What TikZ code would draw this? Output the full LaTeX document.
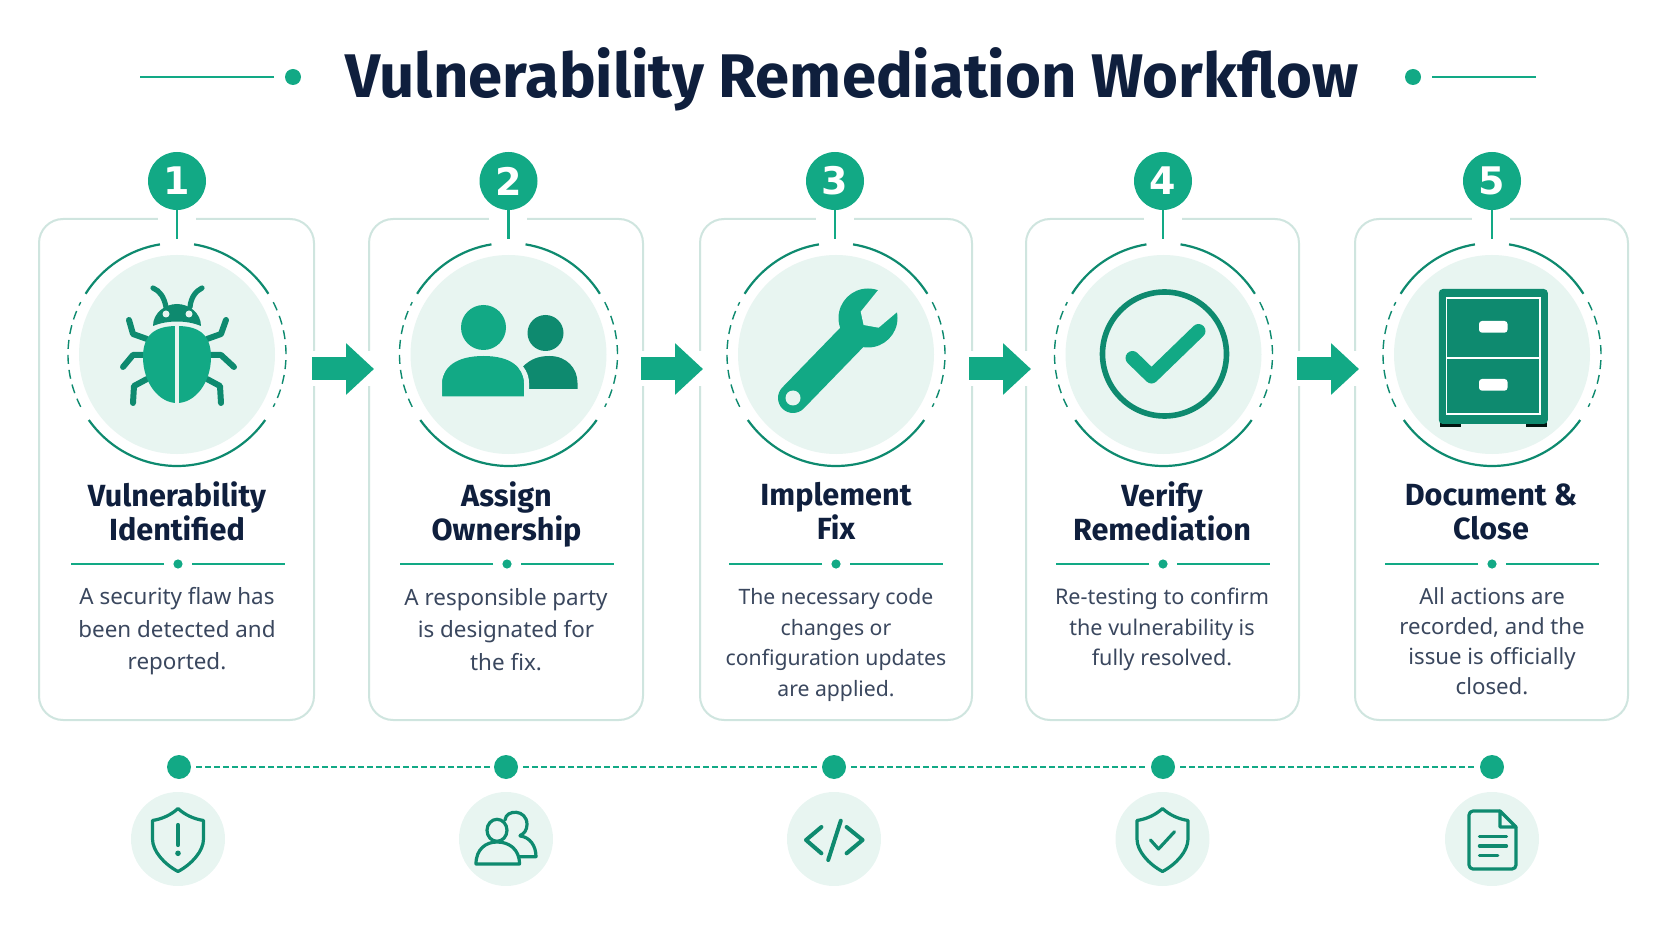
\documentclass[tikz,border=0pt]{standalone}
\usepackage{fontspec}
\usepackage{tikz}
\usetikzlibrary{arrows.meta}
\setmainfont{Noto Sans}
\newfontfamily\headfont{Fira Sans}
\newfontfamily\badgefont{DejaVu Sans}

\definecolor{flowgreen}{HTML}{12A985}
\definecolor{deepgreen}{HTML}{0E8A6F}
\definecolor{softgreen}{HTML}{E8F5F1}
\definecolor{cardline}{HTML}{CFE5DF}
\definecolor{inktitle}{HTML}{0F1F3D}
\definecolor{inkbody}{HTML}{3A475E}

\tikzset{
    stepcard/.style = {draw = cardline, line width = 1pt, rounded corners = 12pt, fill = white, inner sep = 0pt},
    badge/.style = {circle, fill = flowgreen, minimum size = 29pt, inner sep = 0pt, text = white, font = \badgefont\bfseries\fontsize{19}{19}\selectfont},
    stem/.style = {flowgreen, line width = 1.3pt},
    ringline/.style = {deepgreen, line width = 1.1pt},
    ringdash/.style = {deepgreen, line width = 0.7pt, dash pattern = on 4.5pt off 3pt},
    flowarrow/.style = {flowgreen, line width = 11.5pt, -{Triangle[length = 14pt, width = 25pt]}},
    arrowgap/.style = {white, line width = 17.5pt},
    headtext/.style = {align = center, text = inktitle, font = \headfont\bfseries\fontsize{15.3}{17}\selectfont},
    bodytext/.style 2 args = {align = center, text = inkbody, font = \fontsize{#1}{#2}\selectfont},
    divline/.style = {flowgreen, line width = 0.8pt},
    smalldot/.style = {circle, fill = flowgreen, minimum size = 4.6pt, inner sep = 0pt},
    trackdot/.style = {circle, fill = flowgreen, minimum size = 12pt, inner sep = 0pt},
    trackline/.style = {flowgreen, line width = 0.7pt, dash pattern = on 3pt off 1.5pt},
    smalldisc/.style = {circle, fill = softgreen, minimum size = 47pt, inner sep = 0pt},
    thinicon/.style = {deepgreen, line width = 1.6pt, line join = round, line cap = round},
    bugleg/.style = {deepgreen, line width = 3pt, line cap = round, line join = round}
}

% circle behind each main icon, with its broken ring
\newcommand{\ringmark}[1]{
    \begin{scope}[shift = {(#1,354.5)}]
        \fill [softgreen] (0,0) ellipse (98 and 99.5);
        \draw [ringline] (213:109 and 111.5) arc [start angle = 213, end angle = 261, x radius = 109, y radius = 111.5];
        \draw [ringline] (279:109 and 111.5) arc [start angle = 279, end angle = 327, x radius = 109, y radius = 111.5];
        \draw [ringline] (36:109 and 111.5) arc [start angle = 36, end angle = 144, x radius = 109, y radius = 111.5];
        \draw [ringdash] (-28:109 and 111.5) arc [start angle = -28, end angle = 28, x radius = 109, y radius = 111.5];
        \draw [ringdash] (152:109 and 111.5) arc [start angle = 152, end angle = 208, x radius = 109, y radius = 111.5];
    \end{scope}
}

% shield outline of the small icons
\newcommand{\shieldpath}{
    (0,-30.5) .. controls (-7,-24) and (-16,-20) .. (-25.5,-18.5) -- (-25.5,0)
    .. controls (-25.5,12) and (-14,25) .. (0,32.5)
    .. controls (14,25) and (25.5,12) .. (25.5,0) -- (25.5,-18.5)
    .. controls (16,-20) and (7,-24) .. (0,-30.5) -- cycle
}

\begin{document}
\begin{tikzpicture}[x = 0.5pt, y = -0.5pt]
    \useasboundingbox (0,0) rectangle (1672,941);

    % title
    \node (title) at (852,79) {\color{inktitle}\headfont\bfseries\fontsize{30.8}{30.8}\selectfont Vulnerability Remediation Workflow};
    \node (titledotL) [circle, fill = flowgreen, minimum size = 8pt, inner sep = 0pt] at (293,77) {};
    \node (titledotR) [circle, fill = flowgreen, minimum size = 8pt, inner sep = 0pt] at (1413,77) {};
    \draw [flowgreen, line width = 1.1pt] (titledotL) ++(-19,0) -- ++(-134,0);
    \draw [flowgreen, line width = 1.1pt] (titledotR) ++(19,0) -- ++(104,0);

    % cards
    \node (cardA) [stepcard, minimum width = 137.5pt, minimum height = 250.5pt] at (176.5,469.5) {};
    \node (cardB) [stepcard, minimum width = 137pt, minimum height = 250.5pt] at (506,469.5) {};
    \node (cardC) [stepcard, minimum width = 136pt, minimum height = 250.5pt] at (836,469.5) {};
    \node (cardD) [stepcard, minimum width = 136.5pt, minimum height = 250.5pt] at (1162.5,469.5) {};
    \node (cardE) [stepcard, minimum width = 136.5pt, minimum height = 250.5pt] at (1491.5,469.5) {};

    % gaps in the card tops, under the stems
    \fill [white] (158,214) rectangle (196,224);
    \fill [white] (489,214) rectangle (527,224);
    \fill [white] (816,214) rectangle (854,224);
    \fill [white] (1144,214) rectangle (1182,224);
    \fill [white] (1472,214) rectangle (1510,224);

    % arrows between cards
    \draw [arrowgap] ([xshift = -1pt, yshift = 50.25pt]cardA.east) -- ([xshift = 2pt, yshift = 50.25pt]cardB.west);
    \draw [arrowgap] ([xshift = -1pt, yshift = 50.25pt]cardB.east) -- ([xshift = 2pt, yshift = 50.25pt]cardC.west);
    \draw [arrowgap] ([xshift = -2pt, yshift = 50.25pt]cardC.east) -- ([xshift = 2pt, yshift = 50.25pt]cardD.west);
    \draw [arrowgap] ([xshift = -1pt, yshift = 50.25pt]cardD.east) -- ([xshift = 2pt, yshift = 50.25pt]cardE.west);
    \draw [flowarrow] ([xshift = -1.5pt, yshift = 50.25pt]cardA.east) -- ([xshift = 3pt, yshift = 50.25pt]cardB.west);
    \draw [flowarrow] ([xshift = -1.5pt, yshift = 50.25pt]cardB.east) -- ([xshift = 2pt, yshift = 50.25pt]cardC.west);
    \draw [flowarrow] ([xshift = -2pt, yshift = 50.25pt]cardC.east) -- ([xshift = 3pt, yshift = 50.25pt]cardD.west);
    \draw [flowarrow] ([xshift = -1.5pt, yshift = 50.25pt]cardD.east) -- ([xshift = 2.5pt, yshift = 50.25pt]cardE.west);

    % rings
    \ringmark{177}
    \ringmark{508.5}
    \ringmark{836}
    \ringmark{1163.5}
    \ringmark{1492}

    % number badges
    \node (badgeA) [badge] at (177,181) {1};
    \node (badgeB) [badge] at (508.5,181) {2};
    \node (badgeC) [badge] at (835,181) {3};
    \node (badgeD) [badge] at (1163,181) {4};
    \node (badgeE) [badge] at (1492,181) {5};
    \coordinate (stemA) at (177,239);
    \coordinate (stemB) at (508.5,239);
    \coordinate (stemC) at (835,239);
    \coordinate (stemD) at (1163,239);
    \coordinate (stemE) at (1492,239);
    \draw [stem] (badgeA) -- (stemA);
    \draw [stem] (badgeB) -- (stemB);
    \draw [stem] (badgeC) -- (stemC);
    \draw [stem] (badgeD) -- (stemD);
    \draw [stem] (badgeE) -- (stemE);

    % bug
    \begin{scope}[shift = {(177,353)}]
        \draw [bugleg] (-30,-14) -- (-44,-19) -- (-48,-33);
        \draw [bugleg] (30,-14) -- (44,-19) -- (49,-33);
        \draw [bugleg] (-32,2) -- (-44,2) -- (-54,14);
        \draw [bugleg] (32,2) -- (44,2) -- (57,14);
        \draw [bugleg] (-30,26) -- (-43,33) -- (-44,50);
        \draw [bugleg] (30,26) -- (43,33) -- (44,50);
        \fill [flowgreen] (0,-27) .. controls (-20,-27) and (-34,-20) .. (-34,4) .. controls (-34,30) and (-18,50) .. (0,50) .. controls (18,50) and (34,30) .. (34,4) .. controls (34,-20) and (20,-27) .. (0,-27) -- cycle;
        \draw [softgreen, line width = 2.4pt] (0,-30) -- (0,52);
        \fill [deepgreen] (-24,-27) .. controls (-24,-40) and (-12,-49) .. (0,-49) .. controls (12,-49) and (24,-40) .. (24,-27) .. controls (10,-33) and (-10,-33) .. (-24,-27) -- cycle;
        \fill [softgreen] (-11,-39) circle (3.5);
        \fill [softgreen] (12,-39) circle (3.5);
        \draw [deepgreen, line width = 2.6pt, line cap = round] (-11,-46) .. controls (-13,-56) and (-17,-62) .. (-24,-65);
        \draw [deepgreen, line width = 2.6pt, line cap = round] (13,-46) .. controls (14,-56) and (19,-62) .. (25,-65);
    \end{scope}

    % two people
    \begin{scope}[shift = {(508.5,353)}]
        \fill [deepgreen] (37,-20) circle (18);
        \fill [deepgreen] (14,36) -- (14,14) .. controls (22,6) and (30,3) .. (41,3) .. controls (58,3) and (69,15) .. (69,30) -- (69,36) -- cycle;
        \fill [flowgreen, draw = softgreen, line width = 2.5pt] (-69,46) -- (-69,30) .. controls (-69,14) and (-52,1) .. (-25,1) .. controls (2,1) and (18,14) .. (18,30) -- (18,46) -- cycle;
        \fill [flowgreen] (-66,43) -- (-66,30) .. controls (-66,14) and (-52,3) .. (-25,3) .. controls (2,3) and (15,14) .. (15,30) -- (15,43) -- cycle;
        \fill [flowgreen] (-25,-25.5) circle (22.5);
    \end{scope}

    % wrench
    \begin{scope}[shift = {(836,353)}]
        \draw [flowgreen, line width = 15pt, line cap = round] (-43,45) -- (22,-22);
        \fill [flowgreen] (32,-35) circle (29.5);
        \fill [softgreen] (40.8,-61.3) -- (24.7,-41.3) -- (27.6,-28) -- (42.6,-25.3) -- (61.5,-41.3) -- (74,-60) -- (52,-74) -- cycle;
        \fill [softgreen] (-43,45) circle (7.5);
    \end{scope}

    % check mark
    \begin{scope}[shift = {(1163.5,353)}]
        \draw [deepgreen, line width = 2.8pt] (1,1) circle (62);
        \draw [flowgreen, line width = 7pt, line cap = round, line join = round] (-31,5) -- (-12,23.5) -- (35,-22);
    \end{scope}

    % filing cabinet
    \begin{scope}[shift = {(1492.5,353)}]
        \fill [black!85!deepgreen] (-52.6,66) rectangle (-31.5,74.3);
        \fill [black!85!deepgreen] (33,66) rectangle (54.6,74.3);
        \fill [deepgreen, rounded corners = 2pt] (-53.7,-64) rectangle (55.3,71);
        \draw [white, line width = 0.8pt] (-46,-54.7) rectangle (47.7,61.3);
        \draw [white, line width = 0.8pt] (-46,5.3) -- (47.7,5.3);
        \fill [white, rounded corners = 1.5pt] (-13.5,-32) rectangle (15,-20.3);
        \fill [white, rounded corners = 1.5pt] (-13.5,26) rectangle (15,37.7);
    \end{scope}

    % step titles
    \node (headA) [headtext] at (177,511) {Vulnerability\\Identified};
    \node (headB) [headtext] at (506.5,514) {Assign\\Ownership};
    \node (headC) [headtext] at (836,511) {Implement\\Fix};
    \node (headD) [headtext] at (1162,511) {Verify\\Remediation};
    \node (headE) [headtext] at (1491,512) {Document \&\\Close};

    % dividers
    \node (divA) [smalldot] at (178,564) {};
    \node (divB) [smalldot] at (507,564) {};
    \node (divC) [smalldot] at (836,564) {};
    \node (divD) [smalldot] at (1163,564) {};
    \node (divE) [smalldot] at (1492,564) {};
    \draw [divline] (divA) ++(-14,0) -- ++(-93,0);
    \draw [divline] (divA) ++(14,0) -- ++(93,0);
    \draw [divline] (divB) ++(-14,0) -- ++(-93,0);
    \draw [divline] (divB) ++(14,0) -- ++(93,0);
    \draw [divline] (divC) ++(-14,0) -- ++(-93,0);
    \draw [divline] (divC) ++(14,0) -- ++(93,0);
    \draw [divline] (divD) ++(-14,0) -- ++(-93,0);
    \draw [divline] (divD) ++(14,0) -- ++(93,0);
    \draw [divline] (divE) ++(-14,0) -- ++(-93,0);
    \draw [divline] (divE) ++(14,0) -- ++(93,0);

    % step texts
    \node (bodyA) [bodytext = {11.2}{16.25}] at (177,631.5) {A security flaw has\\been detected and\\reported.};
    \node (bodyB) [bodytext = {11.2}{16.25}] at (506,629.5) {A responsible party\\is designated for\\the fix.};
    \node (bodyC) [bodytext = {10.6}{15.3}] at (836,645) {The necessary code\\changes or\\configuration updates\\are applied.};
    \node (bodyD) [bodytext = {10.8}{15.25}] at (1162,629.5) {Re-testing to confirm\\the vulnerability is\\fully resolved.};
    \node (bodyE) [bodytext = {11.1}{15}] at (1492,641) {All actions are\\recorded, and the\\issue is officially\\closed.};

    % timeline
    \node (trackA) [trackdot] at (179,767) {};
    \node (trackB) [trackdot] at (506,767) {};
    \node (trackC) [trackdot] at (834,767) {};
    \node (trackD) [trackdot] at (1163,767) {};
    \node (trackE) [trackdot] at (1492,767) {};
    \draw [trackline] (trackA) ++(17,0) -- ([xshift = -2pt]trackB.west);
    \draw [trackline] (trackB) ++(17,0) -- ([xshift = -2pt]trackC.west);
    \draw [trackline] (trackC) ++(17,0) -- ([xshift = -2pt]trackD.west);
    \draw [trackline] (trackD) ++(17,0) -- ([xshift = -2pt]trackE.west);

    % small icons
    \node (smallA) [smalldisc] at (178,839) {};
    \node (smallB) [smalldisc] at (506,839) {};
    \node (smallC) [smalldisc] at (834,839) {};
    \node (smallD) [smalldisc] at (1162.5,839) {};
    \node (smallE) [smalldisc] at (1492,839) {};

    \begin{scope}[shift = {(178,839)}]
        \draw [thinicon] \shieldpath;
        \draw [deepgreen, line width = 2.1pt, line cap = round] (0,-14) -- (0,6);
        \fill [deepgreen] (0,14.3) circle (2.8);
    \end{scope}

    \begin{scope}[shift = {(506,839)}]
        \draw [thinicon] (-1,-19) .. controls (0,-30) and (21,-30) .. (21,-14.5) .. controls (21,-9) and (18,-5) .. (14,-3.5);
        \draw [thinicon] (14,-3) .. controls (24,-2) and (30,7) .. (30,17.7) -- (13.5,17.7);
        \draw [thinicon] (-9,-8.7) ellipse (10 and 11);
        \draw [thinicon] (-30,25) .. controls (-30,10) and (-20,3) .. (-9,3) .. controls (3,3) and (13.5,10) .. (13.5,25) -- cycle;
    \end{scope}

    \begin{scope}[shift = {(834,839)}]
        \draw [thinicon, line width = 2pt] (-12.6,-12) -- (-28,1) -- (-12.6,14.3);
        \draw [thinicon, line width = 2pt] (12.6,-12) -- (28.6,1) -- (12.6,14.3);
        \draw [thinicon, line width = 2pt] (6.8,-18.3) -- (-5.8,21);
    \end{scope}

    \begin{scope}[shift = {(1162.5,839)}]
        \draw [thinicon] \shieldpath;
        \draw [thinicon] (-12,1) -- (-4,10) -- (12,-7.3);
    \end{scope}

    \begin{scope}[shift = {(1492,839)}]
        \draw [thinicon, rounded corners = 2pt] (8,-28) -- (-23,-28) -- (-23,30) -- (24,30) -- (24,-12);
        \draw [thinicon] (8,-28) -- (24,-12) -- (8,-12) -- cycle;
        \draw [thinicon] (-12.6,-2.3) -- (14.5,-2.3);
        \draw [thinicon] (-12.6,7) -- (14.5,7);
        \draw [thinicon] (-12.6,16.7) -- (5.8,16.7);
    \end{scope}
\end{tikzpicture}
\end{document}
